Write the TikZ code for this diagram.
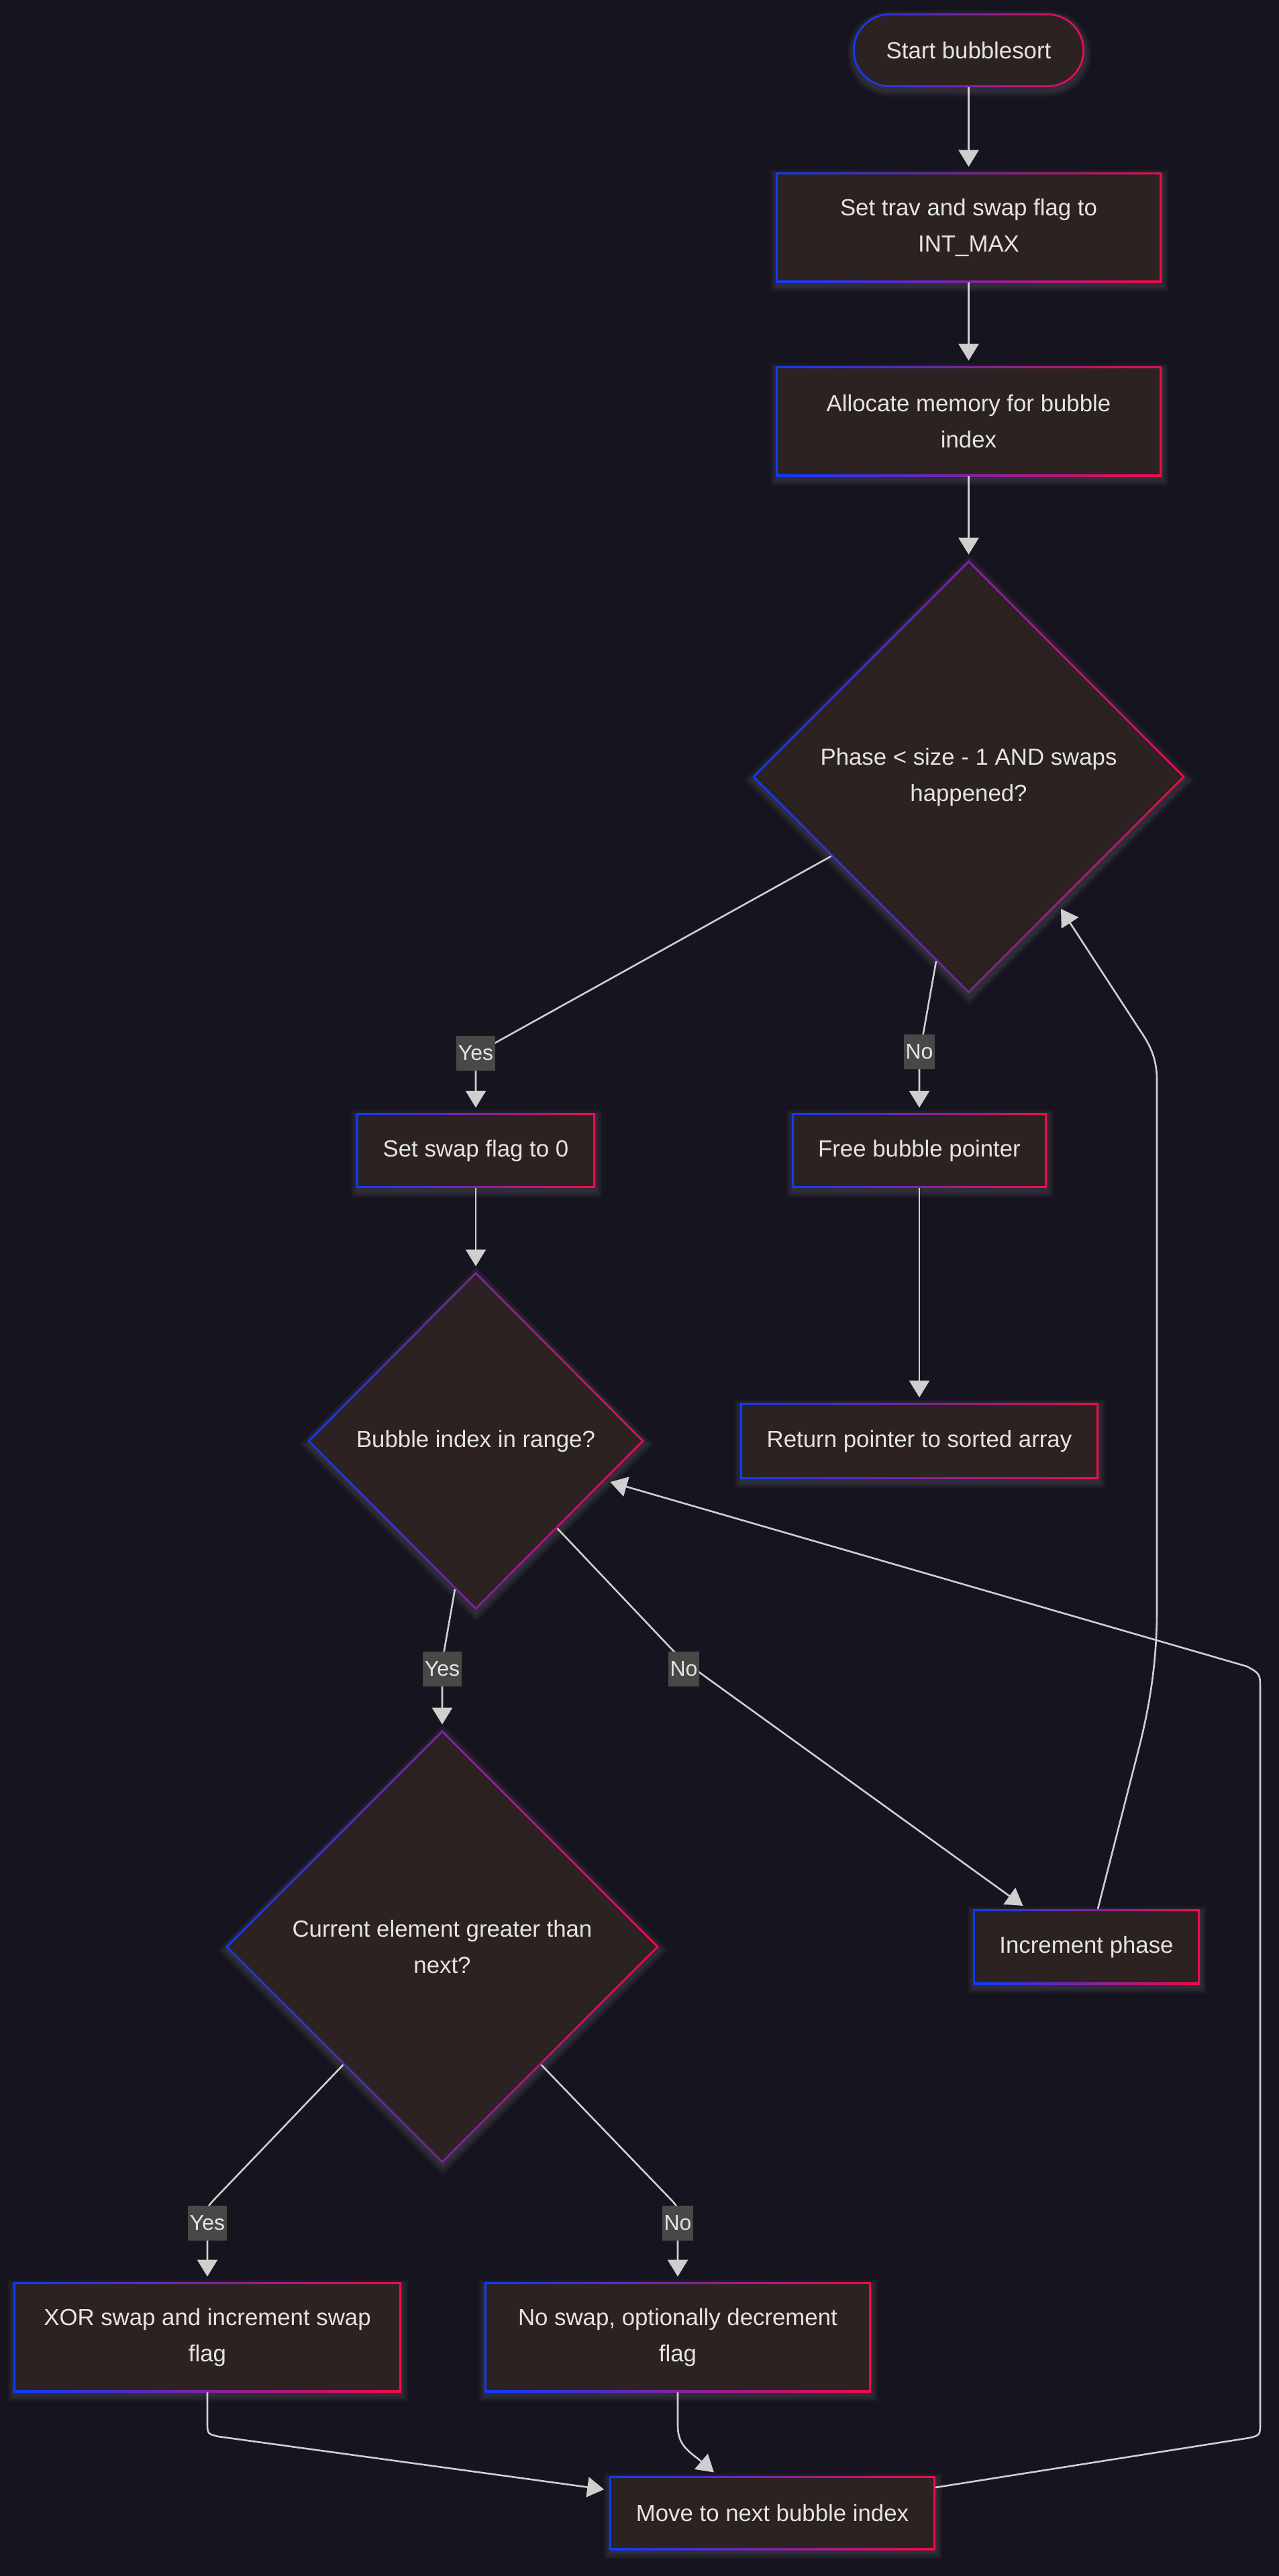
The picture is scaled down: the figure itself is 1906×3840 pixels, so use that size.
\documentclass[tikz,border=0pt]{standalone}
\usepackage{fontspec}
\setmainfont{Liberation Sans}
\usetikzlibrary{shapes.geometric,arrows.meta,calc,backgrounds}
\definecolor{bg}{HTML}{16151F}
\definecolor{nf}{HTML}{2C2222}
\definecolor{cb}{HTML}{0C3CFF}
\definecolor{cr}{HTML}{F50A4A}
\definecolor{lblbg}{HTML}{484946}
\definecolor{edgec}{HTML}{CFCFCF}
\definecolor{txt}{HTML}{E4E4E4}
\definecolor{glowc}{HTML}{9A98B0}
\tikzset{
  base/.style={left color=cb, right color=cr, text=txt, align=center, inner sep=0pt,
    font=\fontsize{17.4pt}{27pt}\selectfont},
  box/.style={base, rectangle,
    path picture={\fill[nf] ([shift={(1.4pt,1.4pt)}]path picture bounding box.south west) rectangle ([shift={(-1.4pt,-1.4pt)}]path picture bounding box.north east);}},
  pill/.style={base, rectangle, rounded corners=27.5pt,
    path picture={\fill[nf, rounded corners=26.1pt] ([shift={(1.4pt,1.4pt)}]path picture bounding box.south west) rectangle ([shift={(-1.4pt,-1.4pt)}]path picture bounding box.north east);}},
  dia/.style={base, diamond, aspect=1,
    path picture={\fill[nf] ([xshift=1.98pt]path picture bounding box.west) -- ([yshift=-1.98pt]path picture bounding box.north) -- ([xshift=-1.98pt]path picture bounding box.east) -- ([yshift=1.98pt]path picture bounding box.south) -- cycle;}},
  conn/.style={draw=edgec, line width=1.3pt, -{Triangle[width=15pt,length=12.5pt]}, shorten >=4pt},
  lbl/.style={fill=lblbg, text=txt, font=\fontsize{16pt}{26pt}\selectfont, inner xsep=1.5pt, inner ysep=0pt, minimum height=26pt},
  glowlayer/.style={fill=glowc, opacity=0.045}
}
\newcommand{\glowR}[1]{\foreach \e in {0.5,1.5,2.5,3.5,4.5}{\fill[glowlayer] ([shift={({-\e*1pt+0.5pt},{-\e*1pt-2.5pt})}]#1.south west) rectangle ([shift={({\e*1pt+0.5pt},{\e*1pt-2.5pt})}]#1.north east);}}
\newcommand{\glowP}[1]{\foreach \e in {0.5,1.5,2.5,3.5,4.5}{\fill[glowlayer, rounded corners={27.5pt+\e*1pt}] ([shift={({-\e*1pt+0.5pt},{-\e*1pt-2.5pt})}]#1.south west) rectangle ([shift={({\e*1pt+0.5pt},{\e*1pt-2.5pt})}]#1.north east);}}
\newcommand{\glowD}[1]{\foreach \e in {0.7,2.1,3.5,4.9,6.3}{\fill[glowlayer] ([shift={({-\e*1pt+0.5pt},-2.5pt)}]#1.west) -- ([shift={(0.5pt,{\e*1pt-2.5pt})}]#1.north) -- ([shift={({\e*1pt+0.5pt},-2.5pt)}]#1.east) -- ([shift={(0.5pt,{-\e*1pt-2.5pt})}]#1.south) -- cycle;}}
\begin{document}
\begin{tikzpicture}[x=0.5pt,y=-0.5pt]
\useasboundingbox (0,0) rectangle (1906,3840);

% nodes
\node[pill, minimum width=172.5pt, minimum height=55pt] (start) at (1443.5,75) {Start bubblesort};
\node[box, minimum width=287.5pt, minimum height=82pt] (trav) at (1443.5,339) {Set trav and swap flag to\\INT\_MAX};
\node[box, minimum width=287.5pt, minimum height=82pt] (alloc) at (1443.5,628) {Allocate memory for bubble\\index};
\node[dia, minimum width=322.5pt, minimum height=323pt] (d1) at (1443.5,1158) {Phase < size - 1 AND swaps\\happened?};
\node[box, minimum width=178pt, minimum height=55.5pt] (swap0) at (709,1715) {Set swap flag to 0};
\node[box, minimum width=190pt, minimum height=55.5pt] (free) at (1370,1715) {Free bubble pointer};
\node[dia, minimum width=251pt, minimum height=252pt] (d2) at (709,2148) {Bubble index in range?};
\node[box, minimum width=267pt, minimum height=56.5pt] (ret) at (1370,2148) {Return pointer to sorted array};
\node[dia, minimum width=323pt, minimum height=323pt] (d3) at (659,2902) {Current element greater than\\next?};
\node[box, minimum width=169pt, minimum height=56pt] (inc) at (1619,2902) {Increment phase};
\node[box, minimum width=289pt, minimum height=82pt] (xor) at (309,3484) {XOR swap and increment swap\\flag};
\node[box, minimum width=288pt, minimum height=82pt] (nos) at (1010,3484) {No swap, optionally decrement\\flag};
\node[box, minimum width=242.5pt, minimum height=55pt] (move) at (1151,3746) {Move to next bubble index};

% background and soft glow under the nodes
\begin{scope}[on background layer]
\fill[bg] (0,0) rectangle (1906,3840);
\glowP{start}
\glowR{trav}\glowR{alloc}\glowR{swap0}\glowR{free}\glowR{ret}\glowR{inc}\glowR{xor}\glowR{nos}\glowR{move}
\glowD{d1}\glowD{d2}\glowD{d3}
\end{scope}

% connectors
\draw[conn] (start) -- (trav);
\draw[conn] (trav) -- (alloc);
\draw[conn] (alloc) -- (d1);
\draw[conn] (d1.210) -- (730,1559) .. controls (709,1571) .. (709,1600) -- (swap0.north);
\draw[conn] (d1.260) -- (1376,1540) .. controls (1370,1560) .. (1370,1580) -- (free.north);
\draw[conn] (free) -- (ret);
\draw[conn] (swap0) -- (d2);
\draw[conn] (d2.262) -- (662,2460) .. controls (659,2475) .. (659,2500) -- (d3.north);
\draw[conn] (d2.313) -- (995,2452) .. controls (1010,2468) and (1025,2480) .. (1045,2495) -- ($(inc.north)+(-88,0)$);
\draw[conn] ($(inc.north)+(17,0)$) -- (1700,2595) .. controls (1718,2520) and (1724,2460) .. (1724,2400) -- (1724,1610) .. controls (1724,1575) and (1712,1555) .. (1697,1533) -- (d1.305);
\draw[conn] (d3.230) -- (318,3280) .. controls (309,3290) .. (309,3305) -- (xor.north);
\draw[conn] (d3.310) -- (1001,3280) .. controls (1010,3290) .. (1010,3305) -- (nos.north);
\draw[conn] (xor.south) -- (309,3610) .. controls (309,3628) .. (325,3632) -- ($(move.west)+(0,-34)$);
\draw[conn] (nos.south) -- (1010,3615) .. controls (1010,3640) and (1020,3650) .. (1040,3665) -- ($(move.north)+(-81,0)$);
\draw[conn] ($(move.east)+(0,-38)$) -- (1862,3634) .. controls (1878,3630) .. (1878,3610) -- (1878,2520) .. controls (1878,2495) .. (1858,2484) -- (d2.343);

% labels
\node[lbl] (ly1) at (709,1570) {Yes};
\node[lbl] (ln1) at (1370,1568) {No};
\node[lbl] (ly2) at (659,2488) {Yes};
\node[lbl] (ln2) at (1019,2488) {No};
\node[lbl] (ly3) at (309,3314) {Yes};
\node[lbl] (ln3) at (1010,3314) {No};
\end{tikzpicture}
\end{document}
